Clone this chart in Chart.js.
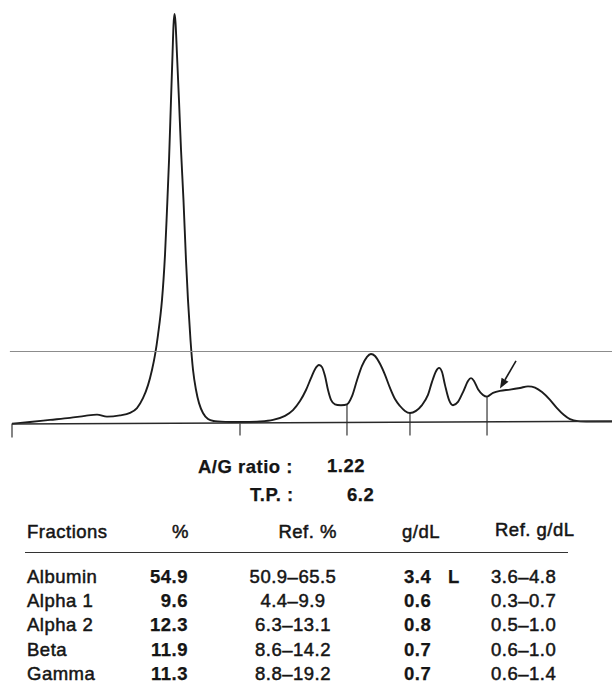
<!DOCTYPE html>
<html><head><meta charset="utf-8">
<script src="https://cdn.jsdelivr.net/npm/chart.js@4.4.1/dist/chart.umd.min.js"></script>
<style>
html,body{margin:0;padding:0;background:#fff;}
#wrap{position:relative;width:612px;height:681px;overflow:hidden;background:#fff;}
#c{position:absolute;left:0;top:0;}
.t{position:absolute;font-family:"Liberation Sans",Arial,sans-serif;font-size:18.5px;letter-spacing:0.5px;line-height:20px;color:#151515;white-space:nowrap;-webkit-text-stroke:0.5px #151515;}
.b{font-weight:bold;-webkit-text-stroke:0.25px #151515;}
.r{transform:translateX(-100%);}
.c{transform:translateX(-50%);}
#rule{position:absolute;left:25px;top:552px;width:543px;height:0;border-top:1.6px solid #333;}
</style></head>
<body>
<div id="wrap"><canvas id="c" width="612" height="445"></canvas><div id="rule"></div></div>
<script>
// Densitometer trace (mobility in % of track length, relative optical density)
const mobility = [0,3,6.33,9.67,12.17,14.17,15.83,18,19.67,20.83,21.83,22.67,23.33,23.83,24.33,25,25.5,25.83,26.17,26.5,26.75,26.92,27.08,27.25,27.5,27.83,28.17,28.58,29,29.33,29.75,30.17,30.67,31.17,31.83,32.67,33.83,36.33,38.83,41.33,43.5,45.5,46.83,48,49,49.83,50.5,51.17,51.67,52.17,52.67,53.17,53.83,54.83,55.83,56.67,57.5,58.33,59.17,59.83,60.5,61.33,62.17,63,63.83,64.67,65.5,66.33,67.33,68.33,69.33,70,70.67,71.17,71.67,72.17,72.83,73.5,74.33,75.17,76,76.5,77,77.67,78.5,79.17,80.17,81.33,83,84.67,86,87.17,88.33,89.67,90.83,92,93,94.33,96.33,100];
const density = [0,0.4,0.9,1.4,1.9,2.2,1.7,2.0,2.6,3.8,6.2,9.4,13.1,16.7,21.6,30.2,41.2,52.1,64.3,79.0,90.0,97.3,100,98.0,90.0,79.0,66.8,54.6,39.9,30.2,20.4,13.1,8.2,5.0,2.6,1.1,0.6,0.4,0.4,0.5,0.9,1.9,3.3,5.5,8.2,11.1,13.3,14.3,13.8,11.6,8.2,5.8,4.7,4.5,4.7,6.7,10.6,14.1,16.3,17.0,16.5,14.6,11.9,8.7,6.0,4.3,3.1,2.6,3.1,4.5,7.0,10.2,12.8,13.6,12.6,9.4,5.8,4.5,5.3,7.7,10.4,11.1,10.4,8.4,7.0,6.6,7.5,8.0,8.3,8.7,9.1,8.8,7.7,5.8,3.8,2.1,1.1,0.6,0.5,0.5];
const applicationMarks = [0, 38];          // sample application / reference ticks
const dividerMobility = [55.83, 66.33, 79.17]; // fraction cut positions
const baselineEnds = [-0.1, 0.6];          // baseline level at left / right end
const refLineLevel = 17.6;                 // horizontal reference line
const tickBottom = -2.9;
const arrowFrom = [84.0, 15.3];
const arrowTo = [81.33, 8.6];

// Report
const agRatio = "1.22";
const totalProtein = "6.2";
const headers = ["Fractions", "%", "Ref. %", "g/dL", "Ref. g/dL"];
const fractions = ["Albumin", "Alpha 1", "Alpha 2", "Beta", "Gamma"];
const percent = ["54.9", "9.6", "12.3", "11.9", "11.3"];
const refPercent = ["50.9\u201365.5", "4.4\u20139.9", "6.3\u201313.1", "8.6\u201314.2", "8.8\u201319.2"];
const gdl = ["3.4", "0.6", "0.8", "0.7", "0.7"];
const flags = ["L", "", "", "", ""];
const refGdl = ["3.6\u20134.8", "0.3\u20130.7", "0.5\u20131.0", "0.6\u20131.0", "0.6\u20131.4"];

const trace = mobility.map((x, i) => ({x, y: density[i]}));
const markerPts = [];
applicationMarks.forEach(x => { markerPts.push({x, y: 0}, {x, y: tickBottom - (x === 0 ? 0.5 : 0)}, {x, y: null}); });
dividerMobility.forEach(x => {
  const i = mobility.indexOf(x);
  markerPts.push({x, y: density[i]}, {x, y: tickBottom}, {x, y: null});
});

const arrowPlugin = {
  id: 'arrow',
  afterDatasetsDraw(chart) {
    const {ctx, scales: {x, y}} = chart;
    const x1 = x.getPixelForValue(arrowFrom[0]), y1 = y.getPixelForValue(arrowFrom[1]);
    const x2 = x.getPixelForValue(arrowTo[0]), y2 = y.getPixelForValue(arrowTo[1]);
    const ang = Math.atan2(y2 - y1, x2 - x1);
    const L = 10, W = 4;
    const bx = x2 - L * Math.cos(ang), by = y2 - L * Math.sin(ang);
    ctx.save();
    ctx.strokeStyle = '#1a1a1a'; ctx.fillStyle = '#1a1a1a'; ctx.lineWidth = 1.6;
    ctx.beginPath(); ctx.moveTo(x1, y1); ctx.lineTo(bx, by); ctx.stroke();
    ctx.beginPath();
    ctx.moveTo(x2, y2);
    ctx.lineTo(bx + W * Math.sin(ang), by - W * Math.cos(ang));
    ctx.lineTo(bx - W * Math.sin(ang), by + W * Math.cos(ang));
    ctx.closePath(); ctx.fill();
    ctx.restore();
  }
};

new Chart(document.getElementById('c'), {
  type: 'line',
  data: {
    datasets: [
      {data: [{x: -0.35, y: refLineLevel}, {x: 100, y: refLineLevel}], borderColor: '#8c8c8c', borderWidth: 1.2, pointRadius: 0, clip: false, tension: 0},
      {data: [{x: 0, y: baselineEnds[0]}, {x: 100, y: baselineEnds[1]}], borderColor: '#2a2a2a', borderWidth: 1.5, pointRadius: 0, clip: false, tension: 0},
      {data: markerPts, borderColor: '#222', borderWidth: 1.1, pointRadius: 0, clip: false, spanGaps: false, tension: 0},
      {data: trace, borderColor: '#1c1c1c', borderWidth: 1.9, pointRadius: 0, clip: false, cubicInterpolationMode: 'monotone'}
    ]
  },
  options: {
    responsive: false, animation: false, events: [],
    layout: {padding: {left: 12, right: 0, top: 14, bottom: 5}},
    plugins: {legend: {display: false}, tooltip: {enabled: false}},
    scales: {
      x: {type: 'linear', min: 0, max: 100, display: false},
      y: {type: 'linear', min: -4, max: 100, display: false}
    }
  },
  plugins: [arrowPlugin]
});

// Report text as HTML
const wrap = document.getElementById('wrap');
function put(text, x, cy, cls) {
  const d = document.createElement('div');
  d.className = 't ' + (cls || '');
  d.textContent = text;
  d.style.left = x + 'px';
  d.style.top = (cy - 10) + 'px';
  wrap.appendChild(d);
}
put('A/G ratio :', 198, 467, 'b');
put(agRatio, 327, 466, 'b');
put('T.P. :', 250, 495, 'b');
put(totalProtein, 347, 495, 'b');

put(headers[0], 27, 532);
put(headers[1], 189, 532, 'r');
put(headers[2], 337, 532, 'r');
put(headers[3], 402, 532);
put(headers[4], 495, 530);

const rowY0 = 577, rowStep = 24.2;
fractions.forEach((f, i) => {
  const cy = rowY0 + i * rowStep;
  put(f, 27, cy);
  put(percent[i], 188, cy, 'b r');
  put(refPercent[i], 293, cy, 'c');
  put(gdl[i], 404, cy, 'b');
  if (flags[i]) put(flags[i], 448, cy, 'b');
  put(refGdl[i], 491, cy);
});
</script>
</body></html>
